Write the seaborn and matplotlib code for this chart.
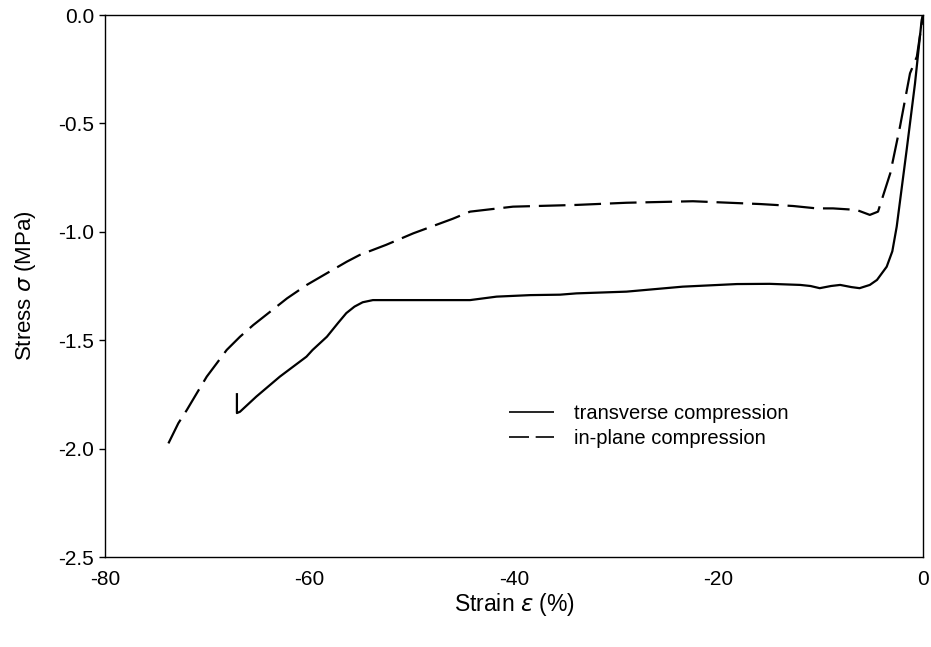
import numpy as np
import pandas as pd
import matplotlib
matplotlib.use("Agg")
import matplotlib.pyplot as plt
import seaborn as sns

# transverse compression (solid)
trans_x = [-67.1, -67.1, -66.8, -65.2, -62.9, -60.3, -59.7, -58.3, -57.2, -56.4, -55.6, -54.8, -53.8,
           -50.0, -46.0, -44.3, -41.7, -38.4, -35.5, -33.9, -29.0, -23.5, -18.2, -15.0,
           -12.0, -11.0, -10.1, -9.0, -8.1, -7.0, -6.2, -5.2, -4.5, -3.55, -3.0, -2.57, -1.6, -0.78, -0.13, 0.0]
trans_y = [-1.744, -1.836, -1.83, -1.76, -1.668, -1.576, -1.545, -1.484, -1.42, -1.375, -1.345, -1.325, -1.315,
           -1.315, -1.315, -1.315, -1.299, -1.292, -1.29, -1.284, -1.276, -1.253, -1.241, -1.240,
           -1.245, -1.25, -1.26, -1.25, -1.245, -1.255, -1.26, -1.245, -1.222, -1.161, -1.09, -0.976, -0.623, -0.315, -0.023, 0.0]

# in-plane compression (dashed)
inpl_x = [-73.8, -72.83, -72.0, -71.03, -70.05, -69.08, -68.1, -66.8, -65.5, -63.86, -62.2, -60.27,
          -58.3, -56.36, -55.1, -52.5, -49.85, -46.0, -44.3,
          -40.1, -33.9, -29.0, -22.5, -15.9, -12.7, -10.4, -8.8, -6.5, -5.2, -4.4, -3.2,
          -2.25, -1.27, -0.6, 0.0]
inpl_y = [-1.976, -1.883, -1.822, -1.745, -1.668, -1.607, -1.545, -1.484, -1.430, -1.369, -1.307, -1.245,
          -1.191, -1.138, -1.107, -1.06, -1.007, -0.94, -0.907,
          -0.884, -0.876, -0.866, -0.859, -0.872, -0.881, -0.892, -0.892, -0.899, -0.922, -0.907, -0.730,
          -0.515, -0.269, -0.192, 0.0]

labels = ["transverse compression", "in-plane compression"]
x_ticks = [-80, -60, -40, -20, 0]
y_ticks = [0.0, -0.5, -1.0, -1.5, -2.0, -2.5]

df = pd.concat([
    pd.DataFrame({"strain": trans_x, "stress": trans_y, "series": labels[0]}),
    pd.DataFrame({"strain": inpl_x, "stress": inpl_y, "series": labels[1]}),
], ignore_index=True)

sns.set_style("ticks")
plt.rcParams["font.family"] = ["Liberation Sans", "DejaVu Sans"]
plt.rcParams["text.color"] = "black"
plt.rcParams["axes.labelcolor"] = "black"

fig = plt.figure(figsize=(9.31, 6.47), dpi=100)
ax = fig.add_axes([0.1128, 0.1391, 0.8786, 0.8377])

sns.lineplot(data=df, x="strain", y="stress", hue="series", style="series",
             palette=["black", "black"], dashes=[(1, 0), (12, 4)],
             sort=False, estimator=None, linewidth=1.6, ax=ax)

ax.set_xlim(-80, 0)
ax.set_ylim(-2.5, 0)
ax.set_xticks(x_ticks)
ax.set_xticklabels([f"{t:d}" for t in x_ticks])
ax.set_yticks(y_ticks)
ax.set_yticklabels([f"{t:.1f}" for t in y_ticks])
ax.tick_params(axis="both", labelsize=15, length=4, width=1, color="black", labelcolor="black")
ax.tick_params(axis="y", pad=4)
ax.tick_params(axis="x", length=0, pad=9)
for s in ax.spines.values():
    s.set_visible(True)
    s.set_color("black")
    s.set_linewidth(1.0)

ax.set_xlabel("Strain $\\varepsilon$ (%)", fontsize=16.5, labelpad=2, color="black")
ax.set_ylabel("Stress $\\sigma$ (MPa)", fontsize=16, labelpad=14, color="black")

leg = ax.legend(loc="upper left", bbox_to_anchor=(0.472, 0.315), frameon=False,
                fontsize=14.5, handlelength=2.2, handletextpad=1.0, labelspacing=0.3)
for line in leg.get_lines():
    line.set_linewidth(1.2)
for t in leg.get_texts():
    t.set_color("black")

fig.savefig("out.png", dpi=100)
